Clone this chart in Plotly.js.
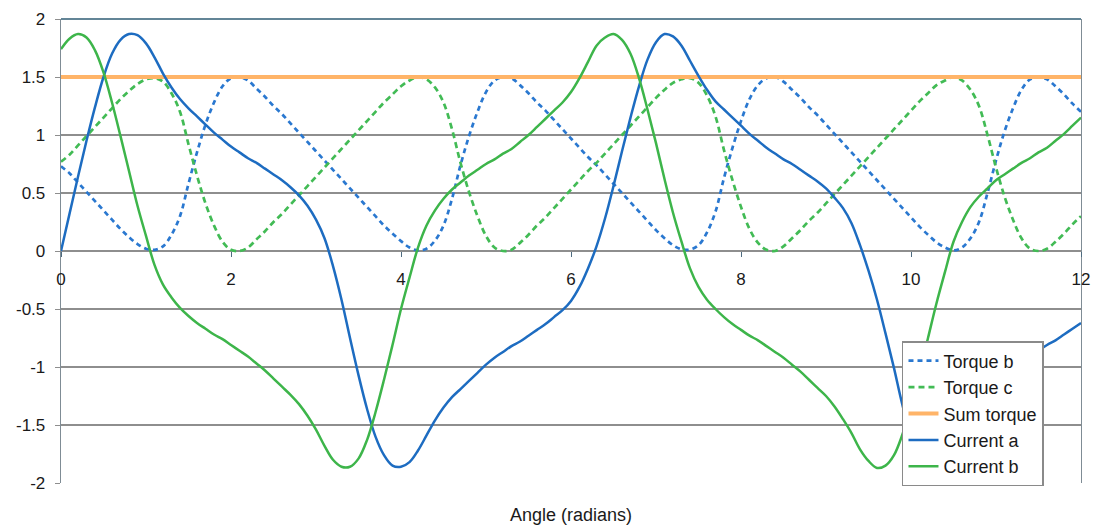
<!DOCTYPE html>
<html>
<head>
<meta charset="utf-8">
<script src="https://cdn.plot.ly/plotly-3.0.1.min.js"></script>
<style>
  html, body { margin: 0; padding: 0; background: #ffffff; }
  #chart { width: 1093px; height: 527px; }
</style>
</head>
<body>
<div id="chart"></div>
<script>
// Angle samples (radians)
const angle = [
  0.0,0.1,0.2,0.3,0.4,0.5,0.6,0.7,0.8,0.9,
  1.0,1.1,1.2,1.3,1.4,1.5,1.6,1.7,1.8,1.9,
  2.0,2.1,2.2,2.3,2.4,2.5,2.6,2.7,2.8,2.9,
  3.0,3.1,3.2,3.3,3.4,3.5,3.6,3.7,3.8,3.9,
  4.0,4.1,4.2,4.3,4.4,4.5,4.6,4.7,4.8,4.9,
  5.0,5.1,5.2,5.3,5.4,5.5,5.6,5.7,5.8,5.9,
  6.0,6.1,6.2,6.3,6.4,6.5,6.6,6.7,6.8,6.9,
  7.0,7.1,7.2,7.3,7.4,7.5,7.6,7.7,7.8,7.9,
  8.0,8.1,8.2,8.3,8.4,8.5,8.6,8.7,8.8,8.9,
  9.0,9.1,9.2,9.3,9.4,9.5,9.6,9.7,9.8,9.9,
  10.0,10.1,10.2,10.3,10.4,10.5,10.6,10.7,10.8,10.9,
  11.0,11.1,11.2,11.3,11.4,11.5,11.6,11.7,11.8,11.9,
  12.0
];

const torqueB = [
  0.73,0.67,0.59,0.51,0.43,0.35,0.27,0.19,0.12,0.06,
  0.02,0.01,0.04,0.14,0.30,0.58,0.85,1.09,1.28,1.42,
  1.49,1.50,1.47,1.40,1.33,1.25,1.18,1.10,1.02,0.94,
  0.86,0.78,0.70,0.62,0.54,0.46,0.38,0.30,0.22,0.15,
  0.085,0.03,0.005,0.02,0.09,0.22,0.45,0.74,0.99,1.20,
  1.37,1.47,1.50,1.49,1.43,1.36,1.28,1.21,1.13,1.05,
  0.97,0.89,0.81,0.74,0.66,0.58,0.50,0.42,0.34,0.26,
  0.18,0.11,0.05,0.015,0.013,0.05,0.16,0.34,0.63,0.89,
  1.12,1.31,1.43,1.49,1.50,1.46,1.39,1.32,1.24,1.17,
  1.09,1.01,0.93,0.85,0.77,0.69,0.61,0.53,0.45,0.37,
  0.29,0.21,0.14,0.075,0.03,0.005,0.03,0.11,0.25,0.50,
  0.78,1.03,1.23,1.39,1.48,1.50,1.48,1.42,1.35,1.27,
  1.20
];

const torqueC = [
  0.77,0.83,0.91,0.99,1.07,1.15,1.23,1.31,1.38,1.44,
  1.48,1.49,1.46,1.36,1.20,0.92,0.65,0.41,0.22,0.08,
  0.01,0.00,0.03,0.10,0.17,0.25,0.32,0.40,0.48,0.56,
  0.64,0.72,0.80,0.88,0.96,1.04,1.12,1.20,1.28,1.35,
  1.42,1.47,1.50,1.48,1.41,1.28,1.05,0.76,0.51,0.30,
  0.13,0.03,0.00,0.01,0.07,0.14,0.22,0.29,0.37,0.45,
  0.53,0.61,0.69,0.76,0.84,0.92,1.00,1.08,1.16,1.24,
  1.32,1.39,1.45,1.48,1.49,1.45,1.34,1.16,0.87,0.61,
  0.38,0.19,0.07,0.01,0.00,0.04,0.11,0.18,0.26,0.33,
  0.41,0.49,0.57,0.65,0.73,0.81,0.89,0.97,1.05,1.13,
  1.21,1.29,1.36,1.43,1.47,1.50,1.47,1.39,1.25,1.00,
  0.72,0.47,0.27,0.11,0.02,0.00,0.02,0.08,0.15,0.23,
  0.30
];

const sumAngle = [0, 12];
const sumTorque = [1.5, 1.5];

const currentA = [
  0.00,0.32,0.64,0.95,1.24,1.50,1.70,1.82,1.87,1.86,
  1.79,1.67,1.53,1.41,1.31,1.23,1.16,1.09,1.02,0.96,
  0.90,0.85,0.80,0.76,0.71,0.66,0.61,0.55,0.48,0.39,
  0.27,0.11,-0.13,-0.42,-0.75,-1.07,-1.36,-1.60,-1.76,-1.85,
  -1.86,-1.82,-1.72,-1.59,-1.46,-1.35,-1.26,-1.19,-1.12,-1.05,
  -0.98,-0.92,-0.87,-0.82,-0.78,-0.73,-0.68,-0.63,-0.57,-0.51,
  -0.43,-0.31,-0.15,0.04,0.28,0.56,0.86,1.15,1.42,1.65,
  1.80,1.87,1.85,1.77,1.64,1.51,1.39,1.29,1.22,1.15,
  1.08,1.01,0.95,0.89,0.84,0.79,0.75,0.70,0.65,0.60,
  0.54,0.46,0.37,0.24,0.05,-0.17,-0.42,-0.71,-1.01,-1.33,
  -1.59,-1.77,-1.86,-1.86,-1.80,-1.69,-1.56,-1.43,-1.33,-1.25,
  -1.17,-1.10,-1.03,-0.97,-0.91,-0.86,-0.81,-0.77,-0.72,-0.67,
  -0.62
];

const currentB = [
  1.74,1.83,1.87,1.84,1.73,1.54,1.28,0.99,0.69,0.39,
  0.13,-0.12,-0.29,-0.40,-0.49,-0.56,-0.62,-0.67,-0.72,-0.76,
  -0.81,-0.86,-0.91,-0.97,-1.03,-1.10,-1.17,-1.24,-1.32,-1.42,
  -1.54,-1.68,-1.80,-1.86,-1.86,-1.79,-1.63,-1.39,-1.11,-0.81,
  -0.50,-0.23,0.03,0.22,0.35,0.45,0.53,0.59,0.65,0.70,
  0.75,0.79,0.84,0.88,0.94,1.00,1.07,1.14,1.21,1.28,
  1.37,1.49,1.63,1.77,1.84,1.87,1.82,1.70,1.49,1.22,
  0.93,0.62,0.33,0.08,-0.15,-0.31,-0.42,-0.50,-0.57,-0.63,
  -0.68,-0.73,-0.77,-0.82,-0.87,-0.92,-0.98,-1.04,-1.11,-1.18,
  -1.25,-1.34,-1.45,-1.57,-1.71,-1.81,-1.87,-1.85,-1.76,-1.58,
  -1.34,-1.05,-0.75,-0.45,-0.18,0.08,0.25,0.38,0.47,0.54,
  0.61,0.66,0.71,0.76,0.80,0.85,0.89,0.95,1.01,1.08,
  1.15
];

const seriesNames = ['Torque b', 'Torque c', 'Sum torque', 'Current a', 'Current b'];
const xTickVals = [0, 2, 4, 6, 8, 10, 12];
const xTickText = ['0', '2', '4', '6', '8', '10', '12'];
const yTickVals = [2, 1.5, 1, 0.5, 0, -0.5, -1, -1.5, -2];
const yTickText = ['2', '1.5', '1', '0.5', '0', '-0.5', '-1', '-1.5', '-2'];
const xTitle = 'Angle (radians)';

const FONT = 'Liberation Sans, Arial, Helvetica, sans-serif';

const traces = [
  { x: angle, y: torqueB, name: seriesNames[0], type: 'scatter', mode: 'lines',
    line: { color: '#2a78d0', width: 2.7, dash: '5px,4px', shape: 'spline', smoothing: 1 } },
  { x: angle, y: torqueC, name: seriesNames[1], type: 'scatter', mode: 'lines',
    line: { color: '#42bb55', width: 2.7, dash: '6px,4px', shape: 'spline', smoothing: 1 } },
  { x: sumAngle, y: sumTorque, name: seriesNames[2], type: 'scatter', mode: 'lines',
    line: { color: '#ffb468', width: 4 } },
  { x: angle, y: currentA, name: seriesNames[3], type: 'scatter', mode: 'lines',
    line: { color: '#1d6cc1', width: 2.5, shape: 'spline', smoothing: 1 } },
  { x: angle, y: currentB, name: seriesNames[4], type: 'scatter', mode: 'lines',
    line: { color: '#3db54a', width: 2.5, shape: 'spline', smoothing: 1 } }
];

const layout = {
  width: 1093,
  height: 527,
  margin: { l: 61, r: 12, t: 19, b: 44, pad: 0 },
  paper_bgcolor: '#ffffff',
  plot_bgcolor: '#ffffff',
  font: { family: FONT, size: 17, color: '#1a1a1a' },
  showlegend: true,
  xaxis: {
    range: [0, 12],
    tickvals: xTickVals,
    ticktext: xTickText,
    anchor: 'free',
    position: 0.5,
    showgrid: false,
    zeroline: false,
    showline: false,
    ticks: 'outside',
    ticklen: 5,
    tickwidth: 1,
    tickcolor: '#4d6b80',
    ticklabelstandoff: 8,
    tickfont: { family: FONT, size: 17, color: '#1a1a1a' },
    fixedrange: true
  },
  yaxis: {
    range: [-2, 2],
    tickvals: yTickVals,
    ticktext: yTickText,
    showgrid: true,
    gridcolor: '#8e8e8e',
    gridwidth: 1.3,
    zeroline: true,
    zerolinecolor: '#8e8e8e',
    zerolinewidth: 1.3,
    showline: true,
    mirror: true,
    linecolor: '#7f8c95',
    linewidth: 1.3,
    ticks: 'outside',
    ticklen: 5,
    tickcolor: '#8e8e8e',
    ticklabelstandoff: 6,
    tickfont: { family: FONT, size: 17, color: '#1a1a1a' },
    fixedrange: true
  },
  shapes: [
    { type: 'line', xref: 'paper', yref: 'paper', x0: 0, x1: 1, y0: 1, y1: 1,
      line: { color: '#2f5d74', width: 1.5 }, layer: 'below' }
  ],
  annotations: [
    { text: xTitle, xref: 'paper', yref: 'paper', x: 0.5, y: -0.069,
      xanchor: 'center', yanchor: 'middle', showarrow: false,
      font: { family: FONT, size: 18, color: '#1a1a1a' } }
  ],
  legend: {
    x: 0.8245, y: 0.306, xanchor: 'left', yanchor: 'top',
    bgcolor: '#ffffff', bordercolor: '#8a8a8a', borderwidth: 1.5,
    font: { family: FONT, size: 18, color: '#1a1a1a' },
    itemwidth: 30, tracegroupgap: 0
  }
};

Plotly.newPlot('chart', traces, layout, { staticPlot: true, displayModeBar: false });
</script>
</body>
</html>
